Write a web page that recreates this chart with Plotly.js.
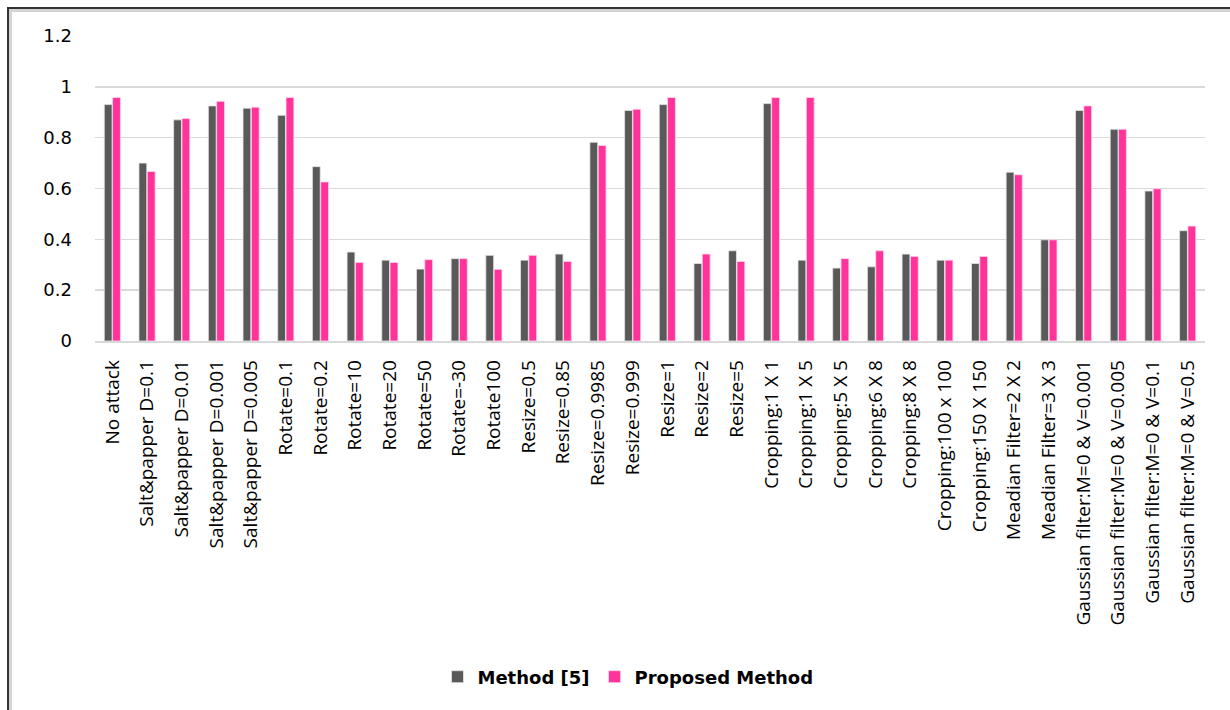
<!DOCTYPE html>
<html>
<head>
<meta charset="utf-8">
<script src="https://cdn.plot.ly/plotly-3.0.1.min.js"></script>
<style>html,body{margin:0;padding:0;background:#fff;}#chart{width:1230px;height:710px;}</style>
</head>
<body>
<div id="chart"></div>
<script>
const categories = [
  "No attack","Salt&papper D=0.1","Salt&papper D=0.01","Salt&papper D=0.001","Salt&papper D=0.005",
  "Rotate=0.1","Rotate=0.2","Rotate=10","Rotate=20","Rotate=50","Rotate=-30","Rotate100",
  "Resize=0.5","Resize=0.85","Resize=0.9985","Resize=0.999","Resize=1","Resize=2","Resize=5",
  "Cropping:1 X 1","Cropping:1 X 5","Cropping:5 X 5","Cropping:6 X 8","Cropping:8 X 8",
  "Cropping:100 x 100","Cropping:150 X 150","Meadian Filter=2 X 2","Meadian Filter=3 X 3",
  "Gaussian filter:M=0 & V=0.001","Gaussian filter:M=0 & V=0.005","Gaussian filter:M=0 & V=0.1","Gaussian filter:M=0 & V=0.5"
];
const method5 = [
  0.930,0.700,0.870,0.925,0.916,
  0.888,0.686,0.350,0.318,0.283,0.324,0.337,
  0.318,0.342,0.782,0.907,0.930,0.305,0.355,
  0.934,0.318,0.287,0.292,0.342,
  0.318,0.305,0.664,0.398,
  0.907,0.833,0.590,0.434
];
const proposed = [
  0.958,0.667,0.875,0.943,0.920,
  0.958,0.626,0.309,0.309,0.320,0.324,0.282,
  0.337,0.313,0.769,0.912,0.958,0.342,0.313,
  0.958,0.958,0.324,0.355,0.333,
  0.318,0.333,0.654,0.398,
  0.925,0.833,0.599,0.452
];
const seriesNames = ["Method [5]","Proposed Method"];
const yTicks = [0,0.2,0.4,0.6,0.8,1,1.2];

// plot area geometry in pixels
const W = 1230, H = 710, L = 95, R = 25, T = 36, B = 369;
const pw = W - L - R, ph = H - T - B;
const px = x => (x - L) / pw;
const py = y => (H - B - y) / ph;

const traces = [
  {type:'bar', name:seriesNames[0], x:categories, y:method5,
   marker:{color:'#595959', line:{color:'#e6e6e6', width:0.8}}},
  {type:'bar', name:seriesNames[1], x:categories, y:proposed,
   marker:{color:'#ff3399', line:{color:'#ffd6ea', width:0.8}}}
];

const layout = {
  width:W, height:H,
  margin:{l:L, r:R, t:T, b:B, pad:0},
  paper_bgcolor:'#ffffff', plot_bgcolor:'#ffffff',
  barmode:'group', bargap:0.52, bargroupgap:0.06,
  showlegend:true,
  legend:{orientation:'h', x:px(628), y:py(677), xanchor:'center', yanchor:'middle',
    font:{family:'DejaVu Sans', size:18, color:'#000', weight:'bold'},
    itemwidth:30, tracegroupgap:0, traceorder:'normal'},
  xaxis:{type:'category', tickangle:-90, showgrid:false, zeroline:false,
    showline:true, linecolor:'#d9d9d9', linewidth:1.5, ticks:'',
    tickfont:{family:'Open Sans', size:19, color:'#000'}, ticklabelstandoff:10,
    automargin:false},
  yaxis:{range:[0,1.2], tickvals:yTicks, ticktext:yTicks.map(String),
    showgrid:true, gridcolor:'#d9d9d9', gridwidth:1.5, zeroline:false, showline:false, ticks:'',
    tickfont:{family:'DejaVu Sans', size:18, color:'#000'}, ticklabelstandoff:22, automargin:false},
  shapes:[
    {type:'line', xref:'paper', yref:'paper', x0:px(7), x1:px(1230), y0:py(10.5), y1:py(10.5), line:{color:'#d4d4d4', width:3}},
    {type:'line', xref:'paper', yref:'paper', x0:px(10.5), x1:px(10.5), y0:py(8), y1:py(710), line:{color:'#d4d4d4', width:3}},
    {type:'line', xref:'paper', yref:'paper', x0:px(7), x1:px(1230), y0:py(8), y1:py(8), line:{color:'#333333', width:2}},
    {type:'line', xref:'paper', yref:'paper', x0:px(8), x1:px(8), y0:py(7), y1:py(710), line:{color:'#333333', width:2}}
  ]
};
Plotly.newPlot('chart', traces, layout, {staticPlot:true, displayModeBar:false});
</script>
</body>
</html>
